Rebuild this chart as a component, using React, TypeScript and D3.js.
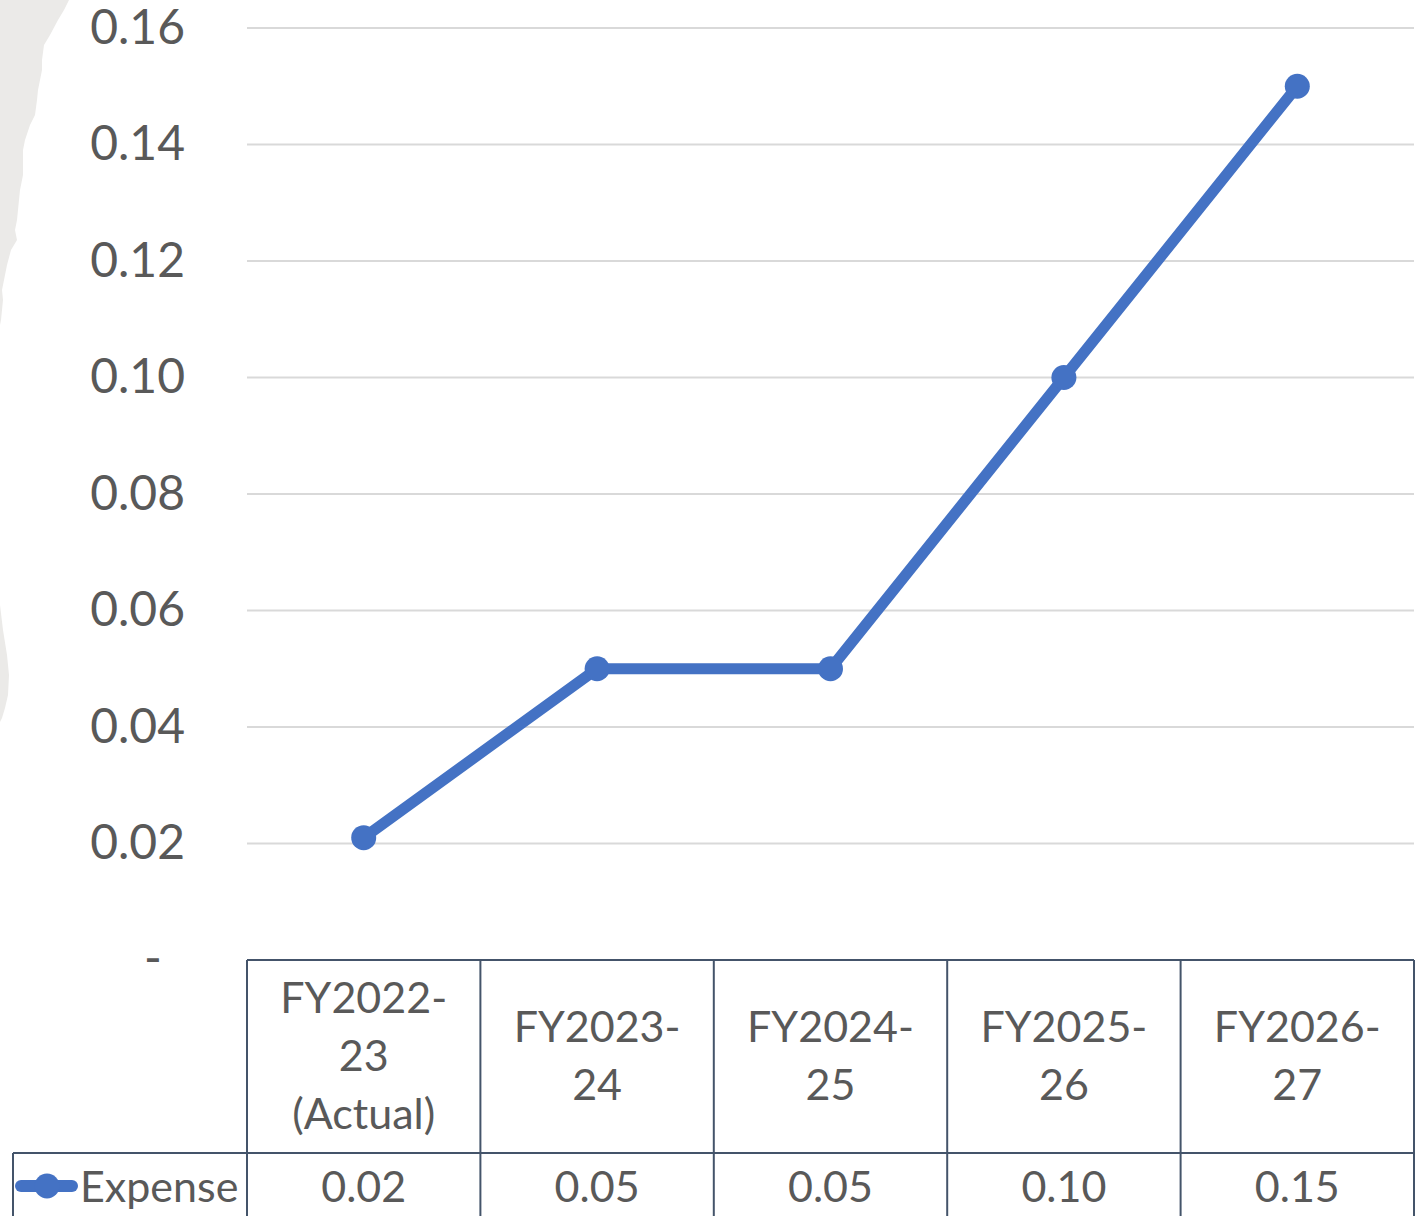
import React from "react";
import * as d3 from "d3";

const categories: string[][] = [
  ["FY2022-", "23", "(Actual)"],
  ["FY2023-", "24"],
  ["FY2024-", "25"],
  ["FY2025-", "26"],
  ["FY2026-", "27"],
];
const seriesName = "Expense";
const expenseValues = [0.021, 0.05, 0.05, 0.1, 0.15];
const expenseLabels = ["0.02", "0.05", "0.05", "0.10", "0.15"];
const yTicks = [0.02, 0.04, 0.06, 0.08, 0.1, 0.12, 0.14, 0.16];

const W = 1422;
const H = 1216;
const plotLeft = 247;
const plotRight = 1414;
const plotTop = 28;
const plotBottom = 960;
const row2Top = 1153;
const tableLeft = 13;

const TEXT = "#595959";
const LINE = "#4472c4";
const BORDER = "#44546a";
const GRID = "#d9d9d9";
const FONT = "Lato, 'Open Sans', sans-serif";

const tornTop: [number, number][] = [
  [0, 0], [69, 0], [64, 10], [58, 20], [50, 35], [44, 45], [42, 60], [42, 70],
  [38, 90], [37, 100], [35, 115], [30, 125], [25, 140], [23, 150], [23, 175],
  [20, 190], [19, 200], [18, 210], [17, 220], [15, 230], [17, 240], [11, 250],
  [7, 265], [5, 275], [2, 290], [3, 300], [1, 320], [0, 325],
];
const tornBulge: [number, number][] = [
  [0, 605], [3, 630], [7, 655], [9, 675], [8, 695], [5, 708], [2, 718], [0, 722],
];

export default function App() {
  const x = d3
    .scaleBand<number>()
    .domain(d3.range(categories.length))
    .range([plotLeft, plotRight])
    .padding(0);
  const y = d3.scaleLinear().domain([0, 0.16]).range([plotBottom, plotTop]);
  const cx = (i: number) => (x(i) as number) + x.bandwidth() / 2;

  const line = d3
    .line<number>()
    .x((_, i) => cx(i))
    .y((d) => y(d));

  const area = d3.line<[number, number]>().curve(d3.curveLinear);

  const fmt = d3.format(".2f");

  return (
    <svg
      width={W}
      height={H}
      style={{ position: "absolute", left: 0, top: 0, background: "#fff" }}
      fontFamily={FONT}
    >
      <rect width={W} height={H} fill="#fff" />
      <path d={area(tornTop) + "Z"} fill="#ebeae8" />
      <path d={area(tornBulge) + "Z"} fill="#ebeae8" />

      {/* gridlines */}
      {yTicks.map((t) => (
        <line
          key={t}
          x1={plotLeft}
          x2={plotRight}
          y1={y(t)}
          y2={y(t)}
          stroke={GRID}
          strokeWidth={2}
        />
      ))}

      {/* y labels */}
      {yTicks.map((t) => (
        <text
          key={"l" + t}
          x={185}
          y={y(t) - 3}
          textAnchor="end"
          dominantBaseline="central"
          fontSize={48}
          fill={TEXT}
        >
          {fmt(t)}
        </text>
      ))}
      <text
        x={153}
        y={y(0) - 4}
        textAnchor="middle"
        dominantBaseline="central"
        fontSize={48}
        fill={TEXT}
      >
        -
      </text>

      {/* series */}
      <path
        d={line(expenseValues) || ""}
        fill="none"
        stroke={LINE}
        strokeWidth={11}
        strokeLinejoin="round"
      />
      {expenseValues.map((v, i) => (
        <circle key={i} cx={cx(i)} cy={y(v)} r={12.5} fill={LINE} />
      ))}

      {/* data table */}
      <line x1={plotLeft} x2={plotRight} y1={plotBottom} y2={plotBottom} stroke={BORDER} strokeWidth={2} />
      <line x1={tableLeft} x2={plotRight} y1={row2Top} y2={row2Top} stroke={BORDER} strokeWidth={2} />
      <line x1={tableLeft} x2={tableLeft} y1={row2Top} y2={H} stroke={BORDER} strokeWidth={2} />
      {d3.range(categories.length + 1).map((i) => {
        const xx = i < categories.length ? (x(i) as number) : plotRight;
        return (
          <line
            key={"v" + i}
            x1={xx}
            x2={xx}
            y1={plotBottom}
            y2={H}
            stroke={BORDER}
            strokeWidth={2}
          />
        );
      })}

      {categories.map((lines, i) => {
        const lh = 58;
        const mid = (plotBottom + row2Top) / 2 - 2;
        const start = mid - ((lines.length - 1) * lh) / 2;
        return lines.map((s, j) => (
          <text
            key={i + "-" + j}
            x={cx(i)}
            y={start + j * lh}
            textAnchor="middle"
            dominantBaseline="central"
            fontSize={43}
            fill={TEXT}
          >
            {s}
          </text>
        ));
      })}

      {expenseLabels.map((s, i) => (
        <text
          key={"val" + i}
          x={cx(i)}
          y={1185}
          textAnchor="middle"
          dominantBaseline="central"
          fontSize={43}
          fill={TEXT}
        >
          {s}
        </text>
      ))}

      {/* legend key */}
      <line x1={21} x2={72} y1={1186} y2={1186} stroke={LINE} strokeWidth={12} strokeLinecap="round" />
      <circle cx={47} cy={1186} r={12.5} fill={LINE} />
      <text
        x={80}
        y={1185}
        textAnchor="start"
        dominantBaseline="central"
        fontSize={43}
        fill={TEXT}
      >
        {seriesName}
      </text>
    </svg>
  );
}
